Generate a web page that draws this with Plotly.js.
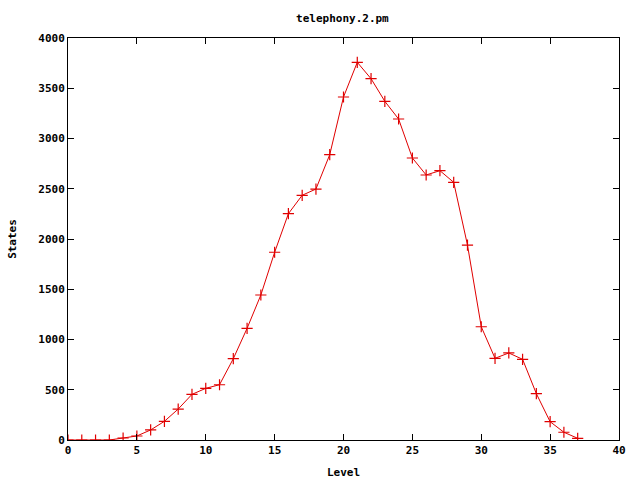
<!DOCTYPE html>
<html>
<head>
<meta charset="utf-8">
<script src="https://cdn.plot.ly/plotly-3.0.1.min.js"></script>
<style>html,body{margin:0;padding:0;background:#fff;}#chart{width:640px;height:480px;}</style>
</head>
<body>
<div id="chart"></div>
<script>
var levels = [0,1,2,3,4,5,6,7,8,9,10,11,12,13,14,15,16,17,18,19,20,21,22,23,24,25,26,27,28,29,30,31,32,33,34,35,36,37];
var states = [0,0,0,0,20,40,100,186,308,454,514,550,809,1111,1443,1868,2252,2435,2497,2839,3413,3758,3595,3370,3194,2806,2637,2680,2564,1940,1127,813,866,803,461,182,77,17];
var xTicks = [0,5,10,15,20,25,30,35,40];
var yTicks = [0,500,1000,1500,2000,2500,3000,3500,4000];

var font = {family: '"DejaVu Sans Mono", monospace', size: 11, color: '#000'};
var axisCommon = {
  showgrid: false, zeroline: false, showline: true, mirror: 'ticks',
  linecolor: '#000', linewidth: 1, ticks: 'inside', ticklen: 6, tickcolor: '#000',
  tickfont: {family: font.family, size: 11, color: '#000', weight: 'bold'}
};

var trace = {
  x: levels, y: states, type: 'scatter', mode: 'lines+markers',
  line: {color: '#e00000', width: 1},
  marker: {symbol: 'cross-thin-open', size: 8, line: {color: '#e00000', width: 1.2}, color: '#e00000'},
  showlegend: false, hoverinfo: 'none'
};

var layout = {
  width: 640, height: 480,
  margin: {l: 68, r: 21, t: 38, b: 40},
  paper_bgcolor: '#fff', plot_bgcolor: '#fff',
  title: {text: 'telephony.2.pm', font: {family: font.family, size: 11, color: '#000', weight: 'bold'}, x: 0.535, xanchor: 'center', y: 0.962, yanchor: 'middle'},
  xaxis: Object.assign({}, axisCommon, {
    range: [0, 40], tickvals: xTicks, ticktext: xTicks.map(String),
    title: {text: 'Level', font: {family: font.family, size: 11, color: '#000', weight: 'bold'}, standoff: 12}
  }),
  yaxis: Object.assign({}, axisCommon, {
    range: [0, 4000], tickvals: yTicks, ticktext: yTicks.map(String),
    title: {text: 'States', font: {family: font.family, size: 11, color: '#000', weight: 'bold'}, standoff: 19}
  })
};

Plotly.newPlot('chart', [trace], layout, {staticPlot: true, displayModeBar: false});
</script>
</body>
</html>
